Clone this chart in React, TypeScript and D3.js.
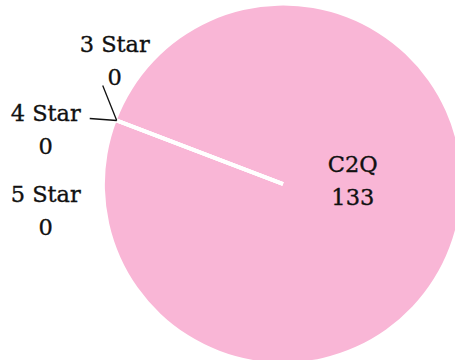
import React from "react";
import * as d3 from "d3";

const categories = ["C2Q", "3 Star", "4 Star", "5 Star"];
const values = [133, 0, 0, 0];

const W = 455;
const H = 360;
const CX = 283;
const CY = 184;
const R = 178;
const START = (290.9 * Math.PI) / 180;
const FONT = "'DejaVu Serif', serif";
const FS = 22.5;

// label layout for the zero-valued slices (relative to the slice's edge point)
const zeroLabels: Record<string, { lx: number; ly: number; ex: number; ey: number; line: boolean }> = {
  "3 Star": { lx: -2, ly: -69, ex: -14, ey: -35, line: true },
  "4 Star": { lx: -71, ly: 0, ex: -27, ey: -2, line: true },
  "5 Star": { lx: -71, ly: 81, ex: 0, ey: 0, line: false },
};

export default function App() {
  const data = categories.map((c, i) => ({ name: c, value: values[i] }));
  const pie = d3
    .pie<{ name: string; value: number }>()
    .value((d) => d.value)
    .sort(null)
    .startAngle(START)
    .endAngle(START + 2 * Math.PI);
  const arcs = pie(data);
  const arc = d3.arc<d3.PieArcDatum<{ name: string; value: number }>>().innerRadius(0).outerRadius(R);

  const textProps = {
    textAnchor: "middle" as const,
    fontFamily: FONT,
    fontSize: FS,
    fill: "#111",
    stroke: "#111",
    strokeWidth: 0.35,
  };

  return (
    <svg width={W} height={H} style={{ position: "absolute", left: 0, top: 0 }}>
      <g transform={`translate(${CX},${CY})`}>
        {arcs.map((a, i) => (
          <path
            key={i}
            d={arc(a) || ""}
            fill="#f9b6d6"
            stroke={a.value === 0 ? "#ffffff" : "none"}
            strokeWidth={4}
          />
        ))}
        {arcs.map((a, i) => {
          if (a.value > 0) {
            const mid = (a.startAngle + a.endAngle) / 2;
            const d = R * 0.42;
            const x = Math.sin(mid) * d;
            const y = -Math.cos(mid) * d;
            return (
              <text key={"l" + i} x={x} y={y} {...textProps}>
                <tspan x={x} dy={-39}>{a.data.name}</tspan>
                <tspan x={x} dy={33}>{a.data.value}</tspan>
              </text>
            );
          }
          const ex = Math.sin(a.startAngle) * R;
          const ey = -Math.cos(a.startAngle) * R;
          const L = zeroLabels[a.data.name];
          const tx = ex + L.lx;
          const ty = ey + L.ly;
          return (
            <g key={"l" + i}>
              {L.line && (
                <polyline
                  points={`${ex},${ey} ${ex + L.ex},${ey + L.ey}`}
                  fill="none"
                  stroke="#111"
                  strokeWidth={1.3}
                />
              )}
              <text x={tx} y={ty} {...textProps}>
                <tspan x={tx} dy={0}>{a.data.name}</tspan>
                <tspan x={tx} dy={33}>{a.data.value}</tspan>
              </text>
            </g>
          );
        })}
      </g>
    </svg>
  );
}
